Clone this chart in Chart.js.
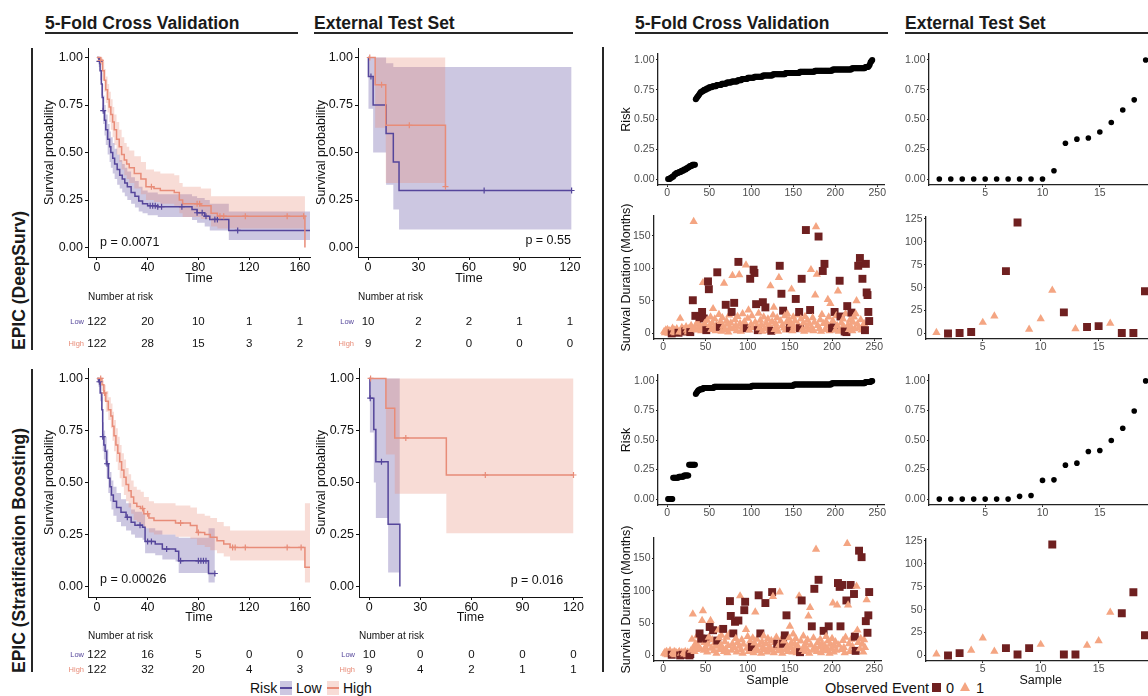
<!DOCTYPE html>
<html>
<head>
<meta charset="utf-8">
<title>EPIC survival figure</title>
<script src="https://cdn.jsdelivr.net/npm/chart.js@4.4.1/dist/chart.umd.min.js"></script>
<style>
  html, body { margin: 0; padding: 0; background: #fff; }
  #fig { position: relative; width: 1148px; height: 696px; overflow: hidden; font-family: "Liberation Sans", Arial, sans-serif; color: #111; }
  #fig canvas { position: absolute; }
  .txt { position: absolute; white-space: nowrap; line-height: 1; }
  .head { font-size: 17.5px; font-weight: bold; color: #1a1a1a; }
  .rule { position: absolute; background: #262626; }
  .side { position: absolute; font-size: 17.5px; font-weight: bold; line-height: 1; white-space: nowrap; transform-origin: 0 0; transform: rotate(-90deg); color: #1a1a1a; }
  .key { position: absolute; width: 12px; height: 14px; }
  .key i { position: absolute; left: 0; right: 0; top: 6px; height: 1.5px; }
</style>
</head>
<body>
<div id="fig">
  <div class="txt head" style="left:45px;top:15px">5-Fold Cross Validation</div>
  <div class="rule" style="left:45px;top:32px;width:253px;height:2px"></div>
  <div class="txt head" style="left:314px;top:15px">External Test Set</div>
  <div class="rule" style="left:314px;top:32px;width:259px;height:2px"></div>
  <div class="txt head" style="left:635px;top:15px">5-Fold Cross Validation</div>
  <div class="rule" style="left:635px;top:32px;width:253px;height:2px"></div>
  <div class="txt head" style="left:905px;top:15px">External Test Set</div>
  <div class="rule" style="left:905px;top:32px;width:243px;height:2px"></div>

  <div class="side" style="left:11px;top:350px">EPIC (DeepSurv)</div>
  <div class="side" style="left:11px;top:673px">EPIC (Stratification Boosting)</div>
  <div class="rule" style="left:31px;top:48px;width:2px;height:302px"></div>
  <div class="rule" style="left:31px;top:369px;width:2px;height:303px"></div>
  <div class="rule" style="left:602px;top:47px;width:2px;height:625px"></div>

  <!-- legends -->
  <div class="txt" style="left:250px;top:681px;font-size:14px">Risk</div>
  <div class="key" style="left:280px;top:681px;background:rgba(85,70,155,0.3)"><i style="background:#55469b"></i></div>
  <div class="txt" style="left:296px;top:681px;font-size:14px">Low</div>
  <div class="key" style="left:327px;top:681px;background:rgba(232,140,120,0.3)"><i style="background:#e88c78"></i></div>
  <div class="txt" style="left:343px;top:681px;font-size:14px">High</div>

  <div class="txt" style="left:825px;top:681px;font-size:14.5px">Observed Event</div>
  <div style="position:absolute;left:932px;top:683px;width:9px;height:9px;background:#6f2020"></div>
  <div class="txt" style="left:946px;top:681px;font-size:14.5px">0</div>
  <div style="position:absolute;left:960px;top:682px;width:0;height:0;border-left:5.5px solid transparent;border-right:5.5px solid transparent;border-bottom:9.5px solid #f4a582"></div>
  <div class="txt" style="left:976px;top:681px;font-size:14.5px">1</div>
</div>

<script>
var FONT = '"Liberation Sans", Arial, Helvetica, sans-serif';
var PURPLE = '#55469b', SALMON = '#e88c78';
var PURPLE_FILL = 'rgba(85,70,155,0.3)', SALMON_FILL = 'rgba(232,140,120,0.3)';
var DARK = '#6f2020', PEACH = '#f4a582';

// tick labels
var cvTimeTicks = [0, 40, 80, 120, 160];
var extTimeTicks = [0, 30, 60, 90, 120];
var probTicks = [0, 0.25, 0.5, 0.75, 1];
var cvSampleTicks = [0, 50, 100, 150, 200, 250];
var extSampleTicks = [5, 10, 15];
var cvMonthTicks = [0, 50, 100, 150];
var extMonthTicks = [0, 25, 50, 75, 100, 125];

// ---- Kaplan-Meier curves (time, survival, upper CI, lower CI, censor times) ----
// DeepSurv, 5-fold CV
var dsCvLowT = [0,1.5,2.5,3.5,4.2,5,6,7,8.5,10,11,12.5,14,16,18,20,22,24,27,30,33,36,40,48,75,79,85,89,104,168];
var dsCvLowS = [1.00,0.98,0.93,0.86,0.79,0.72,0.67,0.62,0.57,0.53,0.50,0.47,0.44,0.41,0.38,0.36,0.34,0.32,0.29,0.27,0.245,0.23,0.22,0.215,0.20,0.183,0.165,0.148,0.09,0.09];
var dsCvLowU = [1.00,1.00,0.98,0.92,0.86,0.80,0.75,0.70,0.65,0.61,0.58,0.55,0.52,0.49,0.46,0.44,0.42,0.40,0.37,0.35,0.32,0.30,0.29,0.28,0.27,0.26,0.25,0.23,0.19,0.19];
var dsCvLowL = [1.00,0.95,0.88,0.80,0.72,0.65,0.59,0.54,0.49,0.45,0.42,0.39,0.36,0.33,0.31,0.29,0.27,0.25,0.23,0.21,0.19,0.18,0.17,0.16,0.145,0.13,0.11,0.09,0.04,0.04];
var dsCvLowCens = [2,5,42,44,46,48,51,67,79,83,86,93,95,111];
var dsCvHighT = [0,3,4.5,5.8,7,8.4,9.7,11,12.4,13.7,15.5,17.6,19.5,21.6,23.5,25.5,29.5,34.7,38.7,45,50,61,65,67.6,82,90,95,164];
var dsCvHighS = [1.00,0.985,0.93,0.88,0.83,0.78,0.74,0.70,0.66,0.62,0.57,0.53,0.49,0.46,0.44,0.42,0.39,0.36,0.32,0.31,0.30,0.29,0.25,0.23,0.22,0.18,0.165,0.00];
var dsCvHighU = [1.00,1.00,0.98,0.94,0.90,0.86,0.82,0.78,0.74,0.70,0.66,0.62,0.58,0.55,0.53,0.51,0.48,0.45,0.41,0.40,0.39,0.38,0.34,0.32,0.31,0.27,0.27,0.00];
var dsCvHighL = [1.00,0.96,0.88,0.82,0.76,0.71,0.66,0.62,0.58,0.54,0.49,0.45,0.41,0.38,0.36,0.34,0.31,0.28,0.25,0.24,0.23,0.22,0.18,0.16,0.15,0.11,0.10,0.00];
var dsCvHighCens = [3,43,79,81,97,100,117,150,163];
var dsCvRiskLow = [122,20,10,1,1];
var dsCvRiskHigh = [122,28,15,3,2];

// DeepSurv, external test set
var dsExtLowT = [0,0.2,3,10.7,15,18.4,121];
var dsExtLowS = [1.0,0.90,0.75,0.60,0.45,0.30,0.30];
var dsExtLowU = [1.0,1.0,1.0,0.97,0.95,0.95,0.95];
var dsExtLowL = [1.0,0.73,0.50,0.33,0.20,0.095,0.095];
var dsExtLowCens = [1.7,69,121];
var dsExtHighT = [0,4.2,10.5,46];
var dsExtHighS = [1.0,0.857,0.643,0.32];
var dsExtHighU = [1.0,1.0,1.0,1.0];
var dsExtHighL = [1.0,0.63,0.34,0.34];
var dsExtHighCens = [1,8,24.5,46];
var dsExtRiskLow = [10,2,2,1,1];
var dsExtRiskHigh = [9,2,0,0,0];

// Stratification Boosting, 5-fold CV
var sbCvLowT = [0,1.3,2.6,3.9,4.6,5.5,6.5,7.7,9,10.3,11.5,13,15.5,19,23,27,30,36,38,46,51.6,62,64.5,88,93];
var sbCvLowS = [1.00,0.984,0.93,0.85,0.72,0.68,0.65,0.59,0.52,0.48,0.44,0.41,0.38,0.357,0.333,0.309,0.295,0.285,0.217,0.204,0.18,0.17,0.124,0.063,0.063];
var sbCvLowU = [1.00,1.00,0.97,0.91,0.79,0.75,0.72,0.66,0.59,0.55,0.51,0.48,0.45,0.42,0.40,0.37,0.36,0.35,0.28,0.27,0.25,0.24,0.235,0.28,0.28];
var sbCvLowL = [1.00,0.96,0.89,0.79,0.65,0.61,0.58,0.52,0.45,0.41,0.37,0.34,0.31,0.29,0.27,0.25,0.235,0.225,0.16,0.15,0.13,0.12,0.065,0.02,0.02];
var sbCvLowCens = [2,4.6,8,24,34,40,43,55,66,80,82,84,86,93];
var sbCvHighT = [0,3,4,5.5,7,9,11,12.3,13.5,15,16.5,18,19.5,21.3,23,25,27,29,31.5,34.5,37,41,45,62,73.7,78.9,85,89.4,94.7,100,105,164,168];
var sbCvHighS = [1.00,1.00,0.97,0.93,0.89,0.85,0.82,0.77,0.725,0.68,0.64,0.60,0.56,0.525,0.49,0.46,0.43,0.40,0.385,0.375,0.35,0.33,0.317,0.305,0.293,0.26,0.25,0.237,0.22,0.205,0.188,0.093,0.093];
var sbCvHighU = [1.00,1.00,0.99,0.97,0.94,0.91,0.88,0.84,0.80,0.76,0.72,0.68,0.64,0.61,0.57,0.54,0.51,0.48,0.465,0.455,0.43,0.41,0.40,0.39,0.38,0.35,0.34,0.33,0.31,0.29,0.27,0.40,0.40];
var sbCvHighL = [1.00,1.00,0.94,0.89,0.84,0.80,0.76,0.70,0.65,0.60,0.56,0.52,0.48,0.44,0.41,0.38,0.35,0.32,0.31,0.30,0.28,0.26,0.25,0.24,0.23,0.20,0.19,0.175,0.16,0.145,0.125,0.02,0.02];
var sbCvHighCens = [3,6,36,40,66,80,107,109,117,150,161];
var sbCvRiskLow = [122,16,5,0,0];
var sbCvRiskHigh = [122,32,20,4,3];

// Stratification Boosting, external test set
var sbExtLowT = [0,0.4,2.7,3.9,11.1,18];
var sbExtLowS = [1.0,0.905,0.755,0.60,0.30,0.0];
var sbExtLowU = [1.0,1.0,1.0,1.0,1.0,0.0];
var sbExtLowL = [1.0,0.74,0.50,0.33,0.068,0.0];
var sbExtLowCens = [0.6,7.2];
var sbExtHighT = [0,9.8,15,45.3,120];
var sbExtHighS = [1.0,0.857,0.714,0.536,0.536];
var sbExtHighU = [1.0,1.0,1.0,1.0,1.0];
var sbExtHighL = [1.0,0.635,0.446,0.256,0.256];
var sbExtHighCens = [0.8,21.5,68.2,120];
var sbExtRiskLow = [10,0,0,0,0];
var sbExtRiskHigh = [9,4,2,1,1];

// ---- per-sample risk and survival (sample index = position + 1) ----
var dsCvRisk = [
 0.00,0.00,0.00,0.01,0.01,0.02,0.02,0.03,0.04,0.04,
 0.05,0.05,0.05,0.06,0.06,0.06,0.07,0.07,0.07,0.08,
 0.08,0.08,0.09,0.09,0.10,0.10,0.11,0.11,0.11,0.12,
 0.12,0.12,0.12,0.67,0.68,0.69,0.70,0.71,0.72,0.73,
 0.73,0.74,0.74,0.75,0.75,0.75,0.76,0.76,0.76,0.77,
 0.77,0.77,0.77,0.78,0.78,0.78,0.78,0.78,0.79,0.79,
 0.79,0.79,0.79,0.79,0.80,0.80,0.80,0.80,0.80,0.80,
 0.81,0.81,0.81,0.81,0.81,0.81,0.82,0.82,0.82,0.82,
 0.82,0.82,0.82,0.83,0.83,0.83,0.83,0.83,0.84,0.84,
 0.84,0.84,0.84,0.84,0.84,0.85,0.85,0.85,0.85,0.85,
 0.85,0.85,0.85,0.86,0.86,0.86,0.86,0.86,0.86,0.86,
 0.86,0.86,0.86,0.87,0.87,0.87,0.87,0.87,0.87,0.87,
 0.87,0.87,0.87,0.87,0.87,0.88,0.88,0.88,0.88,0.88,
 0.88,0.88,0.88,0.88,0.88,0.88,0.88,0.88,0.88,0.88,
 0.89,0.89,0.89,0.89,0.89,0.89,0.89,0.89,0.89,0.89,
 0.89,0.89,0.89,0.89,0.89,0.89,0.89,0.90,0.90,0.90,
 0.90,0.90,0.90,0.90,0.90,0.90,0.90,0.90,0.90,0.90,
 0.90,0.90,0.90,0.90,0.90,0.91,0.91,0.91,0.91,0.91,
 0.91,0.91,0.91,0.91,0.91,0.91,0.91,0.91,0.91,0.91,
 0.91,0.91,0.91,0.91,0.91,0.91,0.92,0.92,0.92,0.92,
 0.92,0.92,0.92,0.92,0.92,0.92,0.92,0.92,0.92,0.92,
 0.92,0.92,0.92,0.92,0.92,0.92,0.92,0.92,0.92,0.93,
 0.93,0.93,0.93,0.93,0.93,0.93,0.93,0.93,0.93,0.93,
 0.93,0.93,0.93,0.93,0.93,0.94,0.94,0.94,0.94,0.95,
 0.96,0.98,0.99,1.00];
var dsCvSurv = [
 3,1,5,2,6,0,4,2,3,0,
 8,2,5,1,4,7,3,1,2,23,
 4,9,2,6,1,3,10,5,2,7,
 3,2,12,6,51,172,8,27,14,5,
 18,9,25,11,4,33,78,23,15,7,
 5,20,80,68,12,25,6,16,38,9,
 22,4,13,94,8,29,10,18,3,24,
 11,77,6,44,19,14,2,28,9,16,
 33,89,7,47,21,12,4,26,110,90,
 15,3,10,30,6,18,12,105,8,23,
 36,5,84,14,27,9,98,93,17,45,
 11,5,31,8,20,13,3,48,25,7,
 40,16,9,22,4,12,73,4,18,28,
 40,6,15,10,24,3,86,104,19,61,
 12,35,8,27,5,17,30,10,21,8,
 14,68,4,25,11,19,53,7,28,13,
 33,8,22,84,6,16,3,26,159,10,
 20,5,14,36,98,9,24,4,17,59,
 164,91,12,149,7,21,3,29,96,15,
 107,6,18,11,52,25,4,46,14,8,
 19,9,33,5,27,12,65,3,81,26,
 16,8,22,10,3,30,2,42,13,6,
 20,11,32,4,17,25,7,30,50,14,
 104,9,116,21,5,84,12,15,5,107,
 63,59,33,19];
var dsCvEvent = [
 1,1,1,1,1,1,1,1,1,0,
 1,1,1,1,1,1,1,0,1,1,
 1,1,1,1,1,0,1,1,1,1,
 1,0,1,1,0,1,1,0,1,1,
 1,1,0,1,1,0,1,0,1,1,
 0,1,0,0,1,1,1,1,1,1,
 1,1,1,0,1,1,0,1,1,1,
 1,1,1,0,1,1,1,1,1,1,
 0,1,1,0,1,1,1,1,0,1,
 1,1,1,1,1,1,1,1,0,1,
 1,1,0,1,1,1,0,0,1,0,
 1,0,1,1,1,1,1,0,1,1,
 0,1,1,1,1,1,1,0,1,1,
 1,1,1,1,1,1,1,0,1,0,
 1,0,1,1,1,1,1,1,1,0,
 1,1,1,1,1,1,0,1,1,1,
 0,0,1,0,1,1,1,1,0,1,
 1,1,1,0,1,1,1,1,1,1,
 1,1,1,0,1,1,1,1,0,1,
 0,1,1,1,1,1,1,1,1,0,
 1,0,0,1,1,1,1,1,0,0,
 1,1,1,1,0,1,0,0,1,1,
 1,1,0,1,1,1,1,1,1,1,
 0,1,0,1,1,0,1,1,0,0,
 0,0,0,0];

var sbCvRisk = [
 0.00,0.00,0.00,0.00,0.00,0.00,0.18,0.18,0.18,0.18,
 0.18,0.18,0.18,0.19,0.19,0.19,0.19,0.19,0.19,0.20,
 0.20,0.20,0.20,0.20,0.20,0.29,0.29,0.29,0.29,0.29,
 0.29,0.29,0.29,0.89,0.90,0.91,0.92,0.92,0.93,0.93,
 0.93,0.93,0.94,0.94,0.94,0.94,0.94,0.94,0.94,0.94,
 0.94,0.94,0.94,0.94,0.94,0.95,0.95,0.95,0.95,0.95,
 0.95,0.95,0.95,0.95,0.95,0.95,0.95,0.95,0.95,0.95,
 0.95,0.95,0.95,0.95,0.95,0.95,0.95,0.95,0.95,0.95,
 0.95,0.95,0.95,0.95,0.95,0.95,0.95,0.95,0.95,0.95,
 0.95,0.95,0.95,0.95,0.95,0.95,0.95,0.95,0.95,0.95,
 0.96,0.96,0.96,0.96,0.96,0.96,0.96,0.96,0.96,0.96,
 0.96,0.96,0.96,0.96,0.96,0.96,0.96,0.96,0.96,0.96,
 0.96,0.96,0.96,0.96,0.96,0.96,0.96,0.96,0.96,0.96,
 0.96,0.96,0.96,0.96,0.96,0.96,0.96,0.96,0.96,0.96,
 0.96,0.96,0.96,0.96,0.96,0.96,0.96,0.96,0.96,0.96,
 0.97,0.97,0.97,0.97,0.97,0.97,0.97,0.97,0.97,0.97,
 0.97,0.97,0.97,0.97,0.97,0.97,0.97,0.97,0.97,0.97,
 0.97,0.97,0.97,0.97,0.97,0.97,0.97,0.97,0.97,0.97,
 0.97,0.97,0.97,0.97,0.97,0.97,0.97,0.97,0.97,0.97,
 0.97,0.97,0.97,0.97,0.97,0.98,0.98,0.98,0.98,0.98,
 0.98,0.98,0.98,0.98,0.98,0.98,0.98,0.98,0.98,0.98,
 0.98,0.98,0.98,0.98,0.98,0.98,0.98,0.98,0.98,0.98,
 0.98,0.98,0.98,0.98,0.98,0.98,0.98,0.98,0.98,0.98,
 0.98,0.98,0.98,0.98,0.98,0.99,0.99,0.99,0.99,0.99,
 0.99,0.99,1.00,1.00];
var sbCvSurv = [
 3,5,2,6,1,4,2,7,3,1,
 4,2,6,1,5,3,2,4,6,0,
 3,5,1,4,2,6,3,1,5,2,
 0,2,8,25,64,12,6,18,9,30,
 15,22,34,10,26,54,69,8,20,13,
 26,5,17,28,44,54,11,24,39,7,
 19,14,3,23,39,27,9,16,31,12,
 41,6,21,10,28,4,15,33,84,61,
 8,18,34,12,52,26,5,20,54,14,
 92,9,24,3,17,70,83,40,11,29,
 6,15,22,8,13,27,4,19,67,10,
 25,7,93,16,34,3,21,12,30,9,
 81,18,5,26,11,14,8,23,98,91,
 4,20,12,28,18,7,16,98,10,25,
 3,18,22,31,9,62,14,6,27,45,
 12,20,5,33,8,17,26,4,15,11,
 92,5,22,85,9,30,14,6,19,10,
 24,61,3,74,16,45,8,27,103,12,
 164,6,20,117,13,25,4,18,9,38,
 15,7,29,11,22,45,3,17,10,26,
 81,5,14,21,8,78,112,16,106,45,
 9,109,23,12,4,28,85,173,78,18,
 6,109,25,14,30,95,29,7,107,39,
 20,162,10,26,152,17,5,24,12,53,
 86,35,62,98];
var sbCvEvent = [
 1,1,1,1,1,1,1,1,1,0,
 1,1,1,1,1,1,1,1,1,0,
 1,1,0,1,1,1,1,1,1,1,
 0,0,1,1,1,1,1,1,1,1,
 1,1,0,1,0,1,1,1,1,1,
 0,1,1,1,0,1,1,1,0,1,
 1,1,1,0,1,1,1,1,1,1,
 0,1,1,1,1,1,1,1,0,0,
 1,1,0,1,0,1,1,1,0,1,
 1,1,1,1,1,0,0,1,1,1,
 1,1,1,1,0,1,1,1,1,1,
 1,1,0,1,0,1,1,1,1,1,
 0,1,1,1,1,1,1,1,0,1,
 1,1,1,1,0,1,1,1,1,1,
 1,0,1,0,1,0,1,1,1,1,
 1,1,1,1,1,1,1,1,1,1,
 1,0,1,0,1,1,1,1,1,1,
 1,1,1,1,1,0,1,1,0,1,
 1,1,1,0,1,1,1,1,1,0,
 1,1,1,1,1,0,1,1,1,1,
 1,1,1,1,1,1,0,1,0,0,
 1,0,1,1,1,1,0,1,1,1,
 1,0,1,1,1,0,0,0,1,1,
 1,0,1,1,0,1,1,1,1,0,
 1,0,0,0];

var dsExtRisk = [0,0,0,0,0,0,0,0,0,0,0.07,0.30,0.335,0.345,0.395,0.475,0.58,0.665,1.00];
var dsExtSurv = [1,0,0.5,1.5,12,19,68,121,4.5,16,47,23,5,7,8,11,0.5,0.5,46];
var dsExtEvent = [1,0,0,0,1,1,0,0,1,1,1,0,1,0,0,1,0,0,0];
var sbExtRisk = [0,0,0,0,0,0,0,0.023,0.031,0.158,0.163,0.287,0.304,0.403,0.411,0.496,0.60,0.746,1.00];
var sbExtSurv = [1.5,0,2.5,5.5,19,4.5,8,1,8,12,121,1,1,11,16,47,46,69,22];
var sbExtEvent = [1,0,0,1,1,1,0,0,0,1,0,0,0,1,1,1,0,0,0];

// ---- helpers ----
Chart.defaults.font.family = FONT;

function survAt(T, S, t) {
  var v = S[0];
  for (var i = 0; i < T.length; i++) { if (T[i] <= t) v = S[i]; }
  return v;
}

function makeCanvas(a, m) {
  var c = document.createElement('canvas');
  var w = Math.round(a.r - a.l + m.l + m.r);
  var h = Math.round(a.b - a.t + m.t + m.b);
  c.width = w; c.height = h;
  c.style.left = Math.round(a.l - m.l) + 'px';
  c.style.top = Math.round(a.t - m.t) + 'px';
  c.style.width = w + 'px'; c.style.height = h + 'px';
  document.getElementById('fig').appendChild(c);
  return c;
}

function axis(o) {
  return {
    type: 'linear', position: o.pos, min: o.min, max: o.max,
    afterFit: function (s) { if (o.pos === 'bottom') { s.height = o.size; } else { s.width = o.size; } },
    afterBuildTicks: function (s) { s.ticks = o.ticks.map(function (v) { return { value: v }; }); },
    grid: { drawOnChartArea: false, drawTicks: true, tickLength: o.tl, tickColor: o.line, tickWidth: 1 },
    border: { display: true, color: o.line, width: o.lw },
    ticks: {
      autoSkip: false, maxRotation: 0, padding: o.pad, color: o.color,
      font: { family: FONT, size: o.fs },
      callback: function (v) { return o.fmt ? o.fmt(v) : String(v); }
    },
    title: {
      display: !!o.title, text: o.title || '', color: '#111',
      font: { family: FONT, size: 12.5 }, padding: o.tpad || { top: 0, bottom: 0 }
    }
  };
}

function baseOptions(m, xa, ya) {
  return {
    responsive: false, maintainAspectRatio: false, animation: false, events: [],
    layout: { padding: { left: 0, top: m.t, right: m.r, bottom: 0 } },
    plugins: { legend: { display: false }, tooltip: { enabled: false } },
    scales: { x: xa, y: ya }
  };
}

function fixed2(v) { return v.toFixed(2); }

function kmChart(o) {
  var canvas = makeCanvas(o.area, o.m);
  var top = Math.round(o.area.t - o.m.t);
  function pts(T, V) { return T.map(function (t, i) { return { x: t, y: V[i] }; }); }
  function marks(g) { return g.C.map(function (t) { return { x: t, y: survAt(g.T, g.S, t) }; }); }
  function curve(d, col) {
    return { data: d, showLine: true, stepped: true, borderColor: col, borderWidth: 1.5, pointRadius: 0, fill: false };
  }
  function band(d, col, fill) {
    return { data: d, showLine: true, stepped: true, borderColor: 'rgba(0,0,0,0)', borderWidth: 0, pointRadius: 0, backgroundColor: col, fill: fill };
  }
  function cross(d, col) {
    return { data: d, showLine: false, pointStyle: 'cross', pointRadius: 3, pointBorderWidth: 1.2, pointBorderColor: col, borderColor: col };
  }
  var datasets = [
    cross(marks(o.high), SALMON), cross(marks(o.low), PURPLE),
    curve(pts(o.high.T, o.high.S), SALMON), curve(pts(o.low.T, o.low.S), PURPLE),
    band(pts(o.high.T, o.high.U), SALMON_FILL, '+1'), band(pts(o.high.T, o.high.L), 'rgba(0,0,0,0)', false),
    band(pts(o.low.T, o.low.U), PURPLE_FILL, '+1'), band(pts(o.low.T, o.low.L), 'rgba(0,0,0,0)', false)
  ];
  var xa = axis({ pos: 'bottom', min: o.xmin, max: o.xmax, size: o.m.b, ticks: o.times, tl: 3, line: '#111', lw: 1, pad: 0, color: '#111', fs: 12.5 });
  var ya = axis({ pos: 'left', min: -0.05, max: 1.05, size: o.m.l, ticks: probTicks, fmt: fixed2, tl: 3, line: '#111', lw: 1, pad: 2, color: '#111', fs: 12.5,
    title: 'Survival probability', tpad: { top: o.tpad, bottom: 0 } });

  var table = {
    id: 'kmTable',
    afterDraw: function (ch) {
      var ctx = ch.ctx, xs = ch.scales.x, ys = ch.scales.y, area = ch.chartArea;
      ctx.save();
      ctx.textBaseline = 'middle';
      ctx.fillStyle = '#111';
      ctx.font = '12.5px ' + FONT;
      ctx.textAlign = 'center';
      ctx.fillText('Time', (area.left + area.right) / 2, o.timeY - top);
      ctx.textAlign = o.pAlign;
      ctx.fillText(o.p, xs.getPixelForValue(o.pX), ys.getPixelForValue(o.pY));
      ctx.font = '10px ' + FONT;
      ctx.textAlign = 'left';
      ctx.fillText('Number at risk', area.left, o.narY - top);
      ctx.font = '11.5px ' + FONT;
      ctx.textAlign = 'center';
      o.times.forEach(function (t, i) {
        ctx.fillText(String(o.riskLow[i]), xs.getPixelForValue(t), o.lowY - top);
        ctx.fillText(String(o.riskHigh[i]), xs.getPixelForValue(t), o.highY - top);
      });
      ctx.font = '7.5px ' + FONT;
      ctx.textAlign = 'right';
      ctx.fillStyle = PURPLE;
      ctx.fillText('Low', area.left - 4, o.lowY - top);
      ctx.fillStyle = SALMON;
      ctx.fillText('High', area.left - 4, o.highY - top);
      ctx.restore();
    }
  };
  new Chart(canvas, { type: 'scatter', data: { datasets: datasets }, options: baseOptions(o.m, xa, ya), plugins: [table] });
}

function dotChart(o) {
  var canvas = makeCanvas(o.area, o.m);
  var pts = o.values.map(function (v, i) { return { x: i + 1, y: v }; });
  var ds;
  if (o.events) {
    var ev = o.events;
    ds = {
      data: pts, showLine: false, pointBorderWidth: 0,
      pointStyle: function (c) { return ev[c.dataIndex] ? 'triangle' : 'rect'; },
      pointRadius: function (c) { return ev[c.dataIndex] ? 4.8 : 5.6; },
      pointBackgroundColor: function (c) { return ev[c.dataIndex] ? PEACH : DARK; }
    };
  } else {
    ds = { data: pts, showLine: false, pointBorderWidth: 0, pointStyle: 'circle', pointRadius: o.r, pointBackgroundColor: '#000' };
  }
  var xa = axis({ pos: 'bottom', min: o.xmin, max: o.xmax, size: o.m.b, ticks: o.xticks, tl: 2, line: '#222', lw: 1.3, pad: 0, color: '#4d4d4d', fs: 10.5,
    title: o.xtitle, tpad: { top: 0, bottom: 2.5 } });
  var ya = axis({ pos: 'left', min: o.ymin, max: o.ymax, size: o.m.l, ticks: o.yticks, fmt: o.yfmt, tl: 2, line: '#222', lw: 1.3, pad: 1.5, color: '#4d4d4d', fs: 10.5,
    title: o.ytitle, tpad: { top: 1.5, bottom: 0 } });
  new Chart(canvas, { type: 'scatter', data: { datasets: [ds] }, options: baseOptions(o.m, xa, ya) });
}

// ---- Kaplan-Meier panels ----
kmChart({
  area: { l: 88, t: 48, r: 310, b: 257 }, m: { l: 48, t: 12, r: 14, b: 100 }, tpad: 2.5,
  xmin: -7, xmax: 168, times: cvTimeTicks,
  low: { T: dsCvLowT, S: dsCvLowS, U: dsCvLowU, L: dsCvLowL, C: dsCvLowCens },
  high: { T: dsCvHighT, S: dsCvHighS, U: dsCvHighU, L: dsCvHighL, C: dsCvHighCens },
  riskLow: dsCvRiskLow, riskHigh: dsCvRiskHigh,
  p: 'p = 0.0071', pX: 2.5, pY: 0.025, pAlign: 'left',
  timeY: 279, narY: 297.5, lowY: 322, highY: 344
});
kmChart({
  area: { l: 358, t: 48, r: 580, b: 257 }, m: { l: 46, t: 12, r: 14, b: 100 }, tpad: 2.2,
  xmin: -6, xmax: 126, times: extTimeTicks,
  low: { T: dsExtLowT, S: dsExtLowS, U: dsExtLowU, L: dsExtLowL, C: dsExtLowCens },
  high: { T: dsExtHighT, S: dsExtHighS, U: dsExtHighU, L: dsExtHighL, C: dsExtHighCens },
  riskLow: dsExtRiskLow, riskHigh: dsExtRiskHigh,
  p: 'p = 0.55', pX: 120.6, pY: 0.035, pAlign: 'right',
  timeY: 279, narY: 297.5, lowY: 322, highY: 344
});
kmChart({
  area: { l: 88, t: 368, r: 310, b: 597 }, m: { l: 48, t: 12, r: 14, b: 83 }, tpad: 2.5,
  xmin: -7, xmax: 168, times: cvTimeTicks,
  low: { T: sbCvLowT, S: sbCvLowS, U: sbCvLowU, L: sbCvLowL, C: sbCvLowCens },
  high: { T: sbCvHighT, S: sbCvHighS, U: sbCvHighU, L: sbCvHighL, C: sbCvHighCens },
  riskLow: sbCvRiskLow, riskHigh: sbCvRiskHigh,
  p: 'p = 0.00026', pX: 2.5, pY: 0.036, pAlign: 'left',
  timeY: 617.5, narY: 636.5, lowY: 655, highY: 669.5
});
kmChart({
  area: { l: 359, t: 368, r: 582, b: 597 }, m: { l: 47, t: 12, r: 12, b: 83 }, tpad: 2.2,
  xmin: -6, xmax: 125, times: extTimeTicks,
  low: { T: sbExtLowT, S: sbExtLowS, U: sbExtLowU, L: sbExtLowL, C: sbExtLowCens },
  high: { T: sbExtHighT, S: sbExtHighS, U: sbExtHighU, L: sbExtHighL, C: sbExtHighCens },
  riskLow: sbExtRiskLow, riskHigh: sbExtRiskHigh,
  p: 'p = 0.016', pX: 113.9, pY: 0.03, pAlign: 'right',
  timeY: 617.5, narY: 636.5, lowY: 655, highY: 669.5
});

// ---- risk / survival-duration scatter panels ----
dotChart({ area: { l: 658, t: 54, r: 884, b: 185 }, m: { l: 40, t: 12, r: 12, b: 18 },
  values: dsCvRisk, r: 3, xmin: -11, xmax: 258, xticks: cvSampleTicks,
  ymin: -0.05, ymax: 1.05, yticks: probTicks, yfmt: fixed2, ytitle: 'Risk' });
dotChart({ area: { l: 654, t: 216, r: 881, b: 339 }, m: { l: 36, t: 12, r: 12, b: 18 },
  values: dsCvSurv, events: dsCvEvent, xmin: -11, xmax: 258, xticks: cvSampleTicks,
  ymin: -8.6, ymax: 180.6, yticks: cvMonthTicks, ytitle: 'Survival Duration (Months)' });
dotChart({ area: { l: 929, t: 54, r: 1156, b: 185 }, m: { l: 38, t: 12, r: 4, b: 18 },
  values: dsExtRisk, r: 2.8, xmin: 0.1, xmax: 19.9, xticks: extSampleTicks,
  ymin: -0.05, ymax: 1.05, yticks: probTicks, yfmt: fixed2 });
dotChart({ area: { l: 926, t: 217, r: 1157, b: 339 }, m: { l: 35, t: 12, r: 4, b: 18 },
  values: dsExtSurv, events: dsExtEvent, xmin: 0.1, xmax: 19.9, xticks: extSampleTicks,
  ymin: -6.05, ymax: 127.05, yticks: extMonthTicks });

dotChart({ area: { l: 658, t: 375, r: 884, b: 505 }, m: { l: 40, t: 12, r: 12, b: 18 },
  values: sbCvRisk, r: 3, xmin: -11, xmax: 258, xticks: cvSampleTicks,
  ymin: -0.05, ymax: 1.05, yticks: probTicks, yfmt: fixed2, ytitle: 'Risk' });
dotChart({ area: { l: 654, t: 538, r: 881, b: 661 }, m: { l: 36, t: 12, r: 12, b: 30 },
  values: sbCvSurv, events: sbCvEvent, xmin: -11, xmax: 258, xticks: cvSampleTicks,
  ymin: -8.65, ymax: 181.65, yticks: cvMonthTicks, ytitle: 'Survival Duration (Months)', xtitle: 'Sample' });
dotChart({ area: { l: 929, t: 375, r: 1156, b: 505 }, m: { l: 38, t: 12, r: 4, b: 18 },
  values: sbExtRisk, r: 2.8, xmin: 0.1, xmax: 19.9, xticks: extSampleTicks,
  ymin: -0.05, ymax: 1.05, yticks: probTicks, yfmt: fixed2 });
dotChart({ area: { l: 926, t: 539, r: 1157, b: 661 }, m: { l: 35, t: 12, r: 4, b: 30 },
  values: sbExtSurv, events: sbExtEvent, xmin: 0.1, xmax: 19.9, xticks: extSampleTicks,
  ymin: -6.05, ymax: 127.05, yticks: extMonthTicks, xtitle: 'Sample' });
</script>
</body>
</html>
